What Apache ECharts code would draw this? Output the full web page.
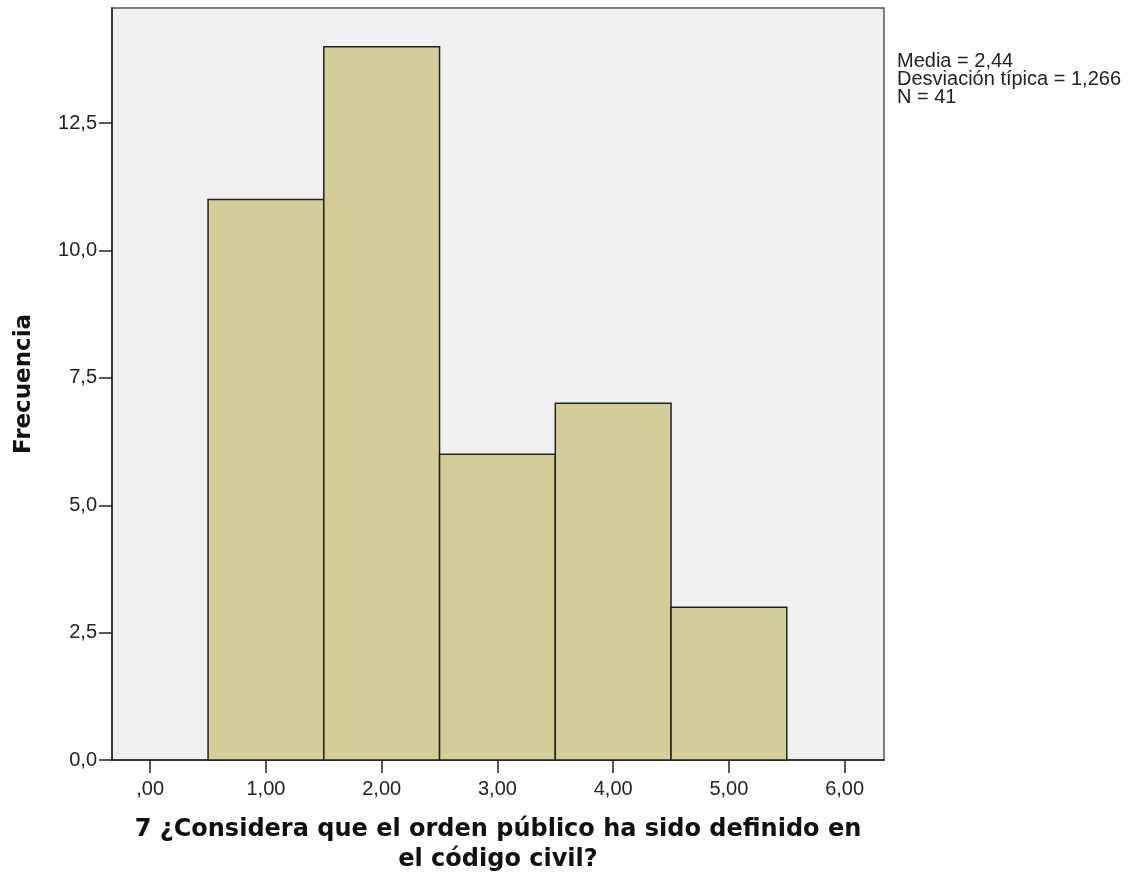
<!DOCTYPE html>
<html>
<head>
<meta charset="utf-8">
<script src="https://cdn.jsdelivr.net/npm/echarts@6/dist/echarts.min.js"></script>
<style>html,body{margin:0;padding:0;background:#fff;}#c{width:1135px;height:877px;}</style>
</head>
<body>
<div id="c"></div>
<script>
// Histogram data
var binCenters = [1, 2, 3, 4, 5];
var frequencies = [11, 14, 6, 7, 3];
var xTicks = [0, 1, 2, 3, 4, 5, 6];
var yTicks = [0, 2.5, 5, 7.5, 10, 12.5];
var statsLines = ['Media = 2,44', 'Desviación típica = 1,266', 'N = 41'];
var xTitle = '7 ¿Considera que el orden público ha sido definido en\nel código civil?';
var yTitle = 'Frecuencia';

function fmtX(v) {
  var s = v.toFixed(2).replace('.', ',');
  if (s.indexOf('0,') === 0) s = s.substring(1);
  return s;
}
function fmtY(v) { return v.toFixed(1).replace('.', ','); }

var chart = echarts.init(document.getElementById('c'), null, {renderer: 'canvas'});
var option = {
  animation: false,
  backgroundColor: '#ffffff',
  grid: {
    left: 112, top: 8, right: 251, bottom: 117,
    outerBoundsMode: 'none', containLabel: false,
    show: true, backgroundColor: '#f0f0f0', borderColor: '#555555', borderWidth: 1.5
  },
  xAxis: {
    type: 'value', min: -0.33, max: 6.34,
    splitLine: {show: false},
    axisLine: {show: true, onZero: false, lineStyle: {color: '#222222', width: 1.5}},
    axisTick: {show: true, length: 13, inside: false, customValues: xTicks, lineStyle: {color: '#222222', width: 1.5}},
    axisLabel: {customValues: xTicks, formatter: fmtX, margin: 19, color: '#222222', fontFamily: 'Liberation Sans, Arial, sans-serif', fontSize: 20},
    name: xTitle, nameLocation: 'middle', nameGap: 55,
    nameTextStyle: {fontFamily: 'DejaVu Sans', fontWeight: 'bold', fontSize: 24, color: '#111111', lineHeight: 30, align: 'center'}
  },
  yAxis: {
    type: 'value', min: 0, max: 14.76,
    splitLine: {show: false},
    axisLine: {show: true, onZero: false, lineStyle: {color: '#222222', width: 1.5}},
    axisTick: {show: true, length: 13, inside: false, customValues: yTicks, lineStyle: {color: '#222222', width: 1.5}},
    axisLabel: {customValues: yTicks, formatter: fmtY, margin: 15, color: '#222222', fontFamily: 'Liberation Sans, Arial, sans-serif', fontSize: 20},
    name: yTitle, nameLocation: 'middle', nameGap: 76, nameRotate: 90,
    nameTextStyle: {fontFamily: 'DejaVu Sans', fontWeight: 'bold', fontSize: 23, color: '#111111'}
  },
  series: [{
    type: 'custom',
    data: binCenters.map(function (c, i) { return [c, frequencies[i]]; }),
    renderItem: function (params, api) {
      var x = api.value(0), y = api.value(1);
      var p0 = api.coord([x - 0.5, y]);
      var p1 = api.coord([x + 0.5, 0]);
      return {
        type: 'rect',
        shape: {x: p0[0], y: p0[1], width: p1[0] - p0[0], height: p1[1] - p0[1]},
        style: {fill: '#d3ce97', stroke: '#222222', lineWidth: 1.5}
      };
    }
  }],
  graphic: [{
    type: 'text', left: 897, top: 51,
    style: {text: statsLines.join('\n'), font: '20px "Liberation Sans", Arial, sans-serif', fill: '#222222', lineHeight: 18}
  }]
};
chart.setOption(option);
</script>
</body>
</html>
